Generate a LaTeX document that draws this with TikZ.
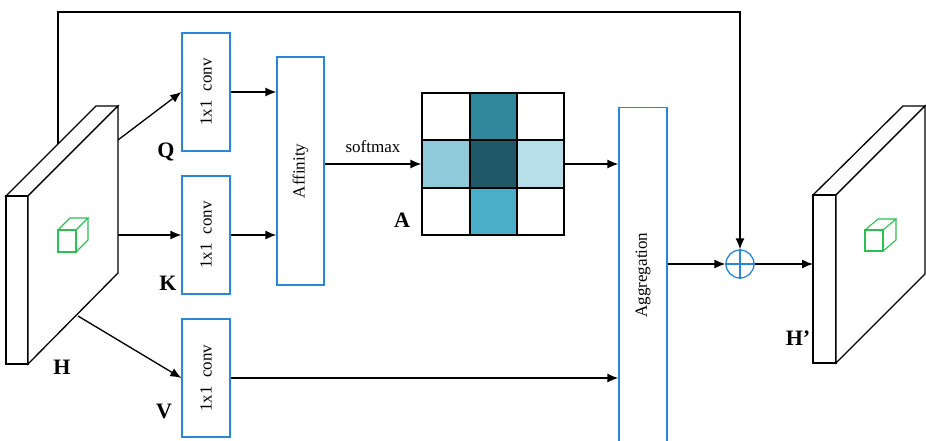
\documentclass[tikz,border=0pt]{standalone}
\usepackage{fontspec}
\setmainfont{Liberation Serif}
\usetikzlibrary{arrows.meta}
\definecolor{bluebox}{HTML}{2A86D6}
\definecolor{cubegreen}{HTML}{2DBE55}
\definecolor{cA}{HTML}{2E879A}
\definecolor{cB}{HTML}{1F5866}
\definecolor{cC}{HTML}{8FCBDA}
\definecolor{cD}{HTML}{B7DFE9}
\definecolor{cE}{HTML}{4BAEC8}
\begin{document}
\begin{tikzpicture}[x=1pt,y=-1pt,
  line width=1.3pt,
  arr/.style={-{Latex[length=11pt,width=9pt]}},
  bbox/.style={draw=bluebox,line width=1.3pt,fill=white,inner sep=0pt,font=\fontsize{17}{20}\selectfont},
  lbl/.style={font=\fontsize{22}{24}\selectfont\bfseries,inner sep=0pt},
  slab/.style={draw=black,line width=1.3pt,fill=white,line join=miter},
  cube/.style={draw=cubegreen,line width=1.1pt},
  cell/.style={draw=black,line width=1.3pt}]
\useasboundingbox (0,0) rectangle (926,440);

% ---- left slab H
\draw[slab] (6,196) -- (96,106) -- (118,106) -- (28,196) -- cycle;
\draw[slab] (6,196) rectangle (28,364);
\draw[slab] (28,196) -- (118,106) -- (118,273) -- (28,364) -- cycle;
\draw[cube] (58,230) rectangle (76,252);
\draw[cube] (58,230) -- (70,218) -- (88,218) -- (76,230);
\draw[cube] (88,218) -- (88,240) -- (76,252);
\coordinate (hq) at (118,140);
\coordinate (hk) at (118,235);
\coordinate (hv) at (78,316);
\coordinate (hs) at (58,144);
\node[lbl] (labH) at (62,367) {H};

% ---- right slab H'
\draw[slab] (813,195) -- (903,106) -- (925,106) -- (836,195) -- cycle;
\draw[slab] (813,195) rectangle (836,363);
\draw[slab] (836,195) -- (925,106) -- (925,274) -- (836,363) -- cycle;
\draw[cube] (865,230) rectangle (883,251);
\draw[cube] (865,230) -- (878,219) -- (896,219) -- (883,230);
\draw[cube] (896,219) -- (896,240) -- (883,251);
\coordinate (hout) at (813,264);
\node[lbl] (labHp) at (798,338) {H’};

% ---- conv boxes
\node[bbox,minimum width=48pt,minimum height=118pt] (convq) at (206,92) {\rotatebox{90}{1x1\ \ conv}};
\node[bbox,minimum width=48pt,minimum height=118pt] (convk) at (206,235) {\rotatebox{90}{1x1\ \ conv}};
\node[bbox,minimum width=48pt,minimum height=118pt] (convv) at (206,378) {\rotatebox{90}{1x1\ \ conv}};
\node[lbl] (labQ) at (166,152) {Q};
\node[lbl] (labK) at (168,283) {K};
\node[lbl] (labV) at (164,411) {V};

% ---- affinity
\node[bbox,minimum width=47pt,minimum height=228pt] (aff) at (300.5,171) {\rotatebox{90}{Affinity}};

% ---- attention map
\fill[cA] (470,93) rectangle (517,140);
\fill[cC] (422,140) rectangle (470,188);
\fill[cB] (470,140) rectangle (517,188);
\fill[cD] (517,140) rectangle (564,188);
\fill[cE] (470,188) rectangle (517,235);
\node[draw=black,line width=1.3pt,minimum width=142pt,minimum height=142pt,inner sep=0pt] (grid) at (493,164) {};
\draw[cell] (470,93) -- (470,235);
\draw[cell] (517,93) -- (517,235);
\draw[cell] (422,140) -- (564,140);
\draw[cell] (422,188) -- (564,188);
\node[font=\fontsize{17}{20}\selectfont,inner sep=0pt] (softmax) at (373,147) {softmax};
\node[lbl] (labA) at (402,220) {A};

% ---- aggregation
\node[bbox,minimum width=48pt,minimum height=340pt,anchor=north] (agg) at (643,107) {};
\node[font=\fontsize{17}{20}\selectfont,inner sep=0pt] (aggtxt) at (643,275) {\rotatebox{90}{Aggregation}};

% ---- sum
\node[draw=bluebox,line width=1.3pt,circle,minimum size=28pt,inner sep=0pt] (plus) at (740,264) {};
\draw[bluebox,line width=1.3pt] (plus.north) -- (plus.south) (plus.west) -- (plus.east);

% ---- connectors
\draw[arr] (hq) -- (convq.west);
\draw[arr] (hk) -- (convk.west);
\draw[arr] (hv) -- (convv.west);
\draw[arr] (convq.east) -- (convq.east -| aff.west);
\draw[arr] (convk.east) -- (convk.east -| aff.west);
\draw[arr] (convv.east) -- (convv.east -| agg.west);
\draw[arr] (aff.east |- grid.west) -- (grid.west);
\draw[arr] (grid.east) -- (grid.east -| agg.west);
\draw[arr] (agg.east |- plus.west) -- (plus.west);
\draw[arr] (plus.east) -- (hout);
\draw[arr] (hs) -- (58,12) -| (plus.north);
\end{tikzpicture}
\end{document}
